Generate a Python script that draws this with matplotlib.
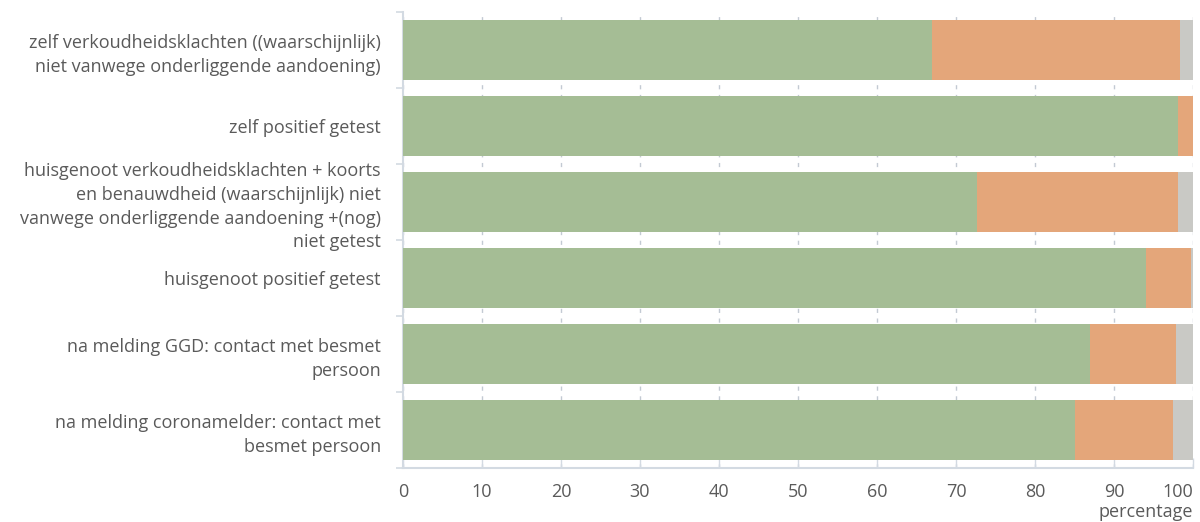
import numpy as np
import matplotlib.pyplot as plt
from matplotlib.ticker import FixedLocator

plt.rcParams['font.family'] = ['Open Sans', 'DejaVu Sans']

# categories (top to bottom)
categories = [
    "zelf verkoudheidsklachten ((waarschijnlijk)\nniet vanwege onderliggende aandoening)",
    "zelf positief getest",
    "huisgenoot verkoudheidsklachten + koorts\nen benauwdheid (waarschijnlijk) niet\nvanwege onderliggende aandoening +(nog)\nniet getest",
    "huisgenoot positief getest",
    "na melding GGD: contact met besmet\npersoon",
    "na melding coronamelder: contact met\nbesmet persoon",
]

# percentages per segment
green_vals = [67.0, 98.1, 72.7, 94.1, 87.0, 85.1]
orange_vals = [31.4, 1.9, 25.4, 5.7, 10.9, 12.4]
grey_vals = [1.6, 0.0, 1.9, 0.2, 2.1, 2.5]

xticks = [0, 10, 20, 30, 40, 50, 60, 70, 80, 90, 100]

green = '#a5bd95'
orange = '#e4a67a'
grey = '#c9c9c5'
text_col = '#5a5a5a'
line_col = '#d3dae2'

fig = plt.figure(figsize=(12, 5.22), dpi=100)
ax = fig.add_axes([403 / 1200, 1 - 468 / 522, 790 / 1200, 456 / 522])

y = np.arange(len(categories))
g = np.array(green_vals)
o = np.array(orange_vals)
r = np.array(grey_vals)

ax.barh(y, g, height=0.79, color=green, zorder=3)
ax.barh(y, o, left=g, height=0.79, color=orange, zorder=3)
ax.barh(y, r, left=g + o, height=0.79, color=grey, zorder=3)

ax.set_xlim(0, 100)
ax.set_ylim(len(categories) - 0.5, -0.5)

# vertical dashed grid
ax.set_xticks(xticks)
ax.xaxis.grid(True, color='#c3cad3', linestyle=(0, (3, 4)), linewidth=1, zorder=1)
ax.yaxis.grid(False)

ax.set_yticks(y)
ax.set_yticklabels(categories, fontsize=13, color=text_col, linespacing=1.4)
ax.tick_params(axis='y', length=0, pad=16)
ax.yaxis.set_minor_locator(FixedLocator(np.arange(-0.5, len(categories), 1)))
ax.tick_params(axis='y', which='minor', length=5, color=line_col, width=1.2)

ax.tick_params(axis='x', direction='in', length=7, color=line_col, width=1,
               labelsize=13, labelcolor=text_col, pad=11)
labels = ax.get_xticklabels()
labels[-1].set_horizontalalignment('right')

for side in ['top', 'right']:
    ax.spines[side].set_visible(False)
for side in ['left', 'bottom']:
    ax.spines[side].set_color(line_col)
    ax.spines[side].set_linewidth(1.5)

fig.text(1193 / 1200, 1 - 512 / 522, 'percentage', ha='right', va='center',
         fontsize=13, color=text_col)

fig.savefig('out.png', dpi=100)
